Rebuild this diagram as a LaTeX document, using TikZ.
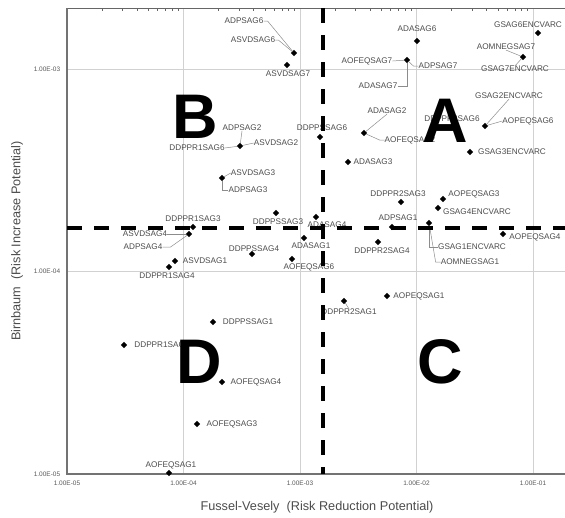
\documentclass[tikz,border=0pt]{standalone}
\usepackage{fontspec}
\setmainfont{Liberation Sans}
\usetikzlibrary{positioning, shapes.geometric}

\begin{document}
\begin{tikzpicture}[
        x=1pt, y=-1pt,
        datum/.style={diamond, fill=black, inner sep=0pt, minimum size=6.5pt},
        lbl/.style={font=\fontsize{8.2}{9}\selectfont, text=black!70, inner sep=0pt},
        ticklbl/.style={font=\fontsize{6.5}{7}\selectfont, text=black!65, inner sep=0pt},
        lead/.style={draw=black!45, line width=0.5pt},
        gridline/.style={draw=black!18, line width=0.8pt},
        axisline/.style={draw=black!55, line width=1.4pt},
        split/.style={draw=black, line width=4pt, dash pattern=on 15pt off 12pt},
        quad/.style={font=\fontsize{63}{63}\selectfont\bfseries, inner sep=0pt}
    ]
    \useasboundingbox (0,0) rectangle (565,517);

    % Grid and axes
    \foreach \gx in {183.5,300,416.5,533}
        \draw[gridline] (\gx,8) -- (\gx,474);
    \foreach \gy in {69,271}
        \draw[gridline] (67,\gy) -- (565,\gy);
    \draw[draw=black!60, line width=0.6pt] (67,8) -- (565,8);
    \begin{scope}
        \clip (67,0) rectangle (565,20);
        \foreach \d in {0,...,4}
            \foreach \k in {2,...,9}
                \draw[draw=black!60, line width=0.6pt] ({67+116.5*\d+116.5*ln(\k)/ln(10)},8) -- ++(0,3);
    \end{scope}
    \draw[axisline] (67,8) -- (67,474) -- (565,474);

    % Tick labels
    \node[ticklbl] (y3) at (47,69) {1.00E-03};
    \node[ticklbl] (y4) at (47,271) {1.00E-04};
    \node[ticklbl] (y5) at (47,474) {1.00E-05};
    \node[ticklbl] (x5) at (67,483) {1.00E-05};
    \node[ticklbl] (x4) at (183.5,483) {1.00E-04};
    \node[ticklbl] (x3) at (300,483) {1.00E-03};
    \node[ticklbl] (x2) at (416.5,483) {1.00E-02};
    \node[ticklbl] (x1) at (533,483) {1.00E-01};

    % Axis titles
    \node[font=\fontsize{12.7}{14}\selectfont, text=black!70] (xtitle) at (317,507) {Fussel-Vesely\ \ (Risk Reduction Potential)};
    \node[font=\fontsize{12.7}{14}\selectfont, text=black!70, rotate=90] (ytitle) at (17,241) {Birnbaum\ \ (Risk Increase Potential)};

    % Data points
    \node[datum] (m1) at (294,53) {};
    \node[datum] (m2) at (287,65) {};
    \node[datum] (m3) at (417,41) {};
    \node[datum] (m4) at (538,33) {};
    \node[datum] (m5) at (523,57) {};
    \node[datum] (m6) at (407,60) {};
    \node[datum] (m7) at (364,133) {};
    \node[datum] (m8) at (485,126) {};
    \node[datum] (m9) at (470,152) {};
    \node[datum] (m10) at (240,146) {};
    \node[datum] (m11) at (320,137) {};
    \node[datum] (m12) at (348,162) {};
    \node[datum] (m13) at (222,178) {};
    \node[datum] (m14) at (276,213) {};
    \node[datum] (m15) at (316,217) {};
    \node[datum] (m16) at (304,238) {};
    \node[datum] (m17) at (252,254) {};
    \node[datum] (m18) at (292,259) {};
    \node[datum] (m19) at (193,227) {};
    \node[datum] (m20) at (189,234) {};
    \node[datum] (m21) at (175,261) {};
    \node[datum] (m22) at (169,267) {};
    \node[datum] (m23) at (401,202) {};
    \node[datum] (m24) at (443,199) {};
    \node[datum] (m25) at (438,208) {};
    \node[datum] (m26) at (392,227) {};
    \node[datum] (m27) at (378,242) {};
    \node[datum] (m28) at (429,223) {};
    \node[datum] (m29) at (503,234) {};
    \node[datum] (m30) at (387,296) {};
    \node[datum] (m31) at (344,301) {};
    \node[datum] (m32) at (213,322) {};
    \node[datum] (m33) at (124,345) {};
    \node[datum] (m34) at (222,382) {};
    \node[datum] (m35) at (197,424) {};
    \node[datum] (m36) at (169,473) {};

    % Labels
    \node[lbl] (adpsag6) at (244,21) {ADPSAG6};
    \node[lbl] (asvdsag6) at (253,40) {ASVDSAG6};
    \node[lbl] (asvdsag7) at (288,74) {ASVDSAG7};
    \node[lbl] (adasag6) at (417,29) {ADASAG6};
    \node[lbl] (gsag6) at (528,25) {GSAG6ENCVARC};
    \node[lbl] (aomnegsag7) at (506,47) {AOMNEGSAG7};
    \node[lbl] (gsag7) at (515,69) {GSAG7ENCVARC};
    \node[lbl] (aofeqsag7) at (367,61) {AOFEQSAG7};
    \node[lbl] (adpsag7) at (438,66) {ADPSAG7};
    \node[lbl] (adasag7) at (378,86) {ADASAG7};
    \node[lbl] (adasag2) at (387,111) {ADASAG2};
    \node[lbl] (aofeqsag2) at (410,140) {AOFEQSAG2};
    \node[lbl] (gsag2) at (509,96) {GSAG2ENCVARC};
    \node[lbl] (aopeqsag6) at (528,121) {AOPEQSAG6};
    \node[lbl] (ddppr2sag6) at (452,119) {DDPPR2SAG6};
    \node[lbl] (gsag3) at (512,152) {GSAG3ENCVARC};
    \node[lbl] (adpsag2) at (242,128) {ADPSAG2};
    \node[lbl] (ddppr1sag6) at (197,148) {DDPPR1SAG6};
    \node[lbl] (asvdsag2) at (276,143) {ASVDSAG2};
    \node[lbl] (ddppssag6) at (322,128) {DDPPSSAG6};
    \node[lbl] (adasag3) at (373,162) {ADASAG3};
    \node[lbl] (asvdsag3) at (253,173) {ASVDSAG3};
    \node[lbl] (adpsag3) at (248,190) {ADPSAG3};
    \node[lbl] (ddppssag3) at (278,222) {DDPPSSAG3};
    \node[lbl] (adasag4) at (327,225) {ADASAG4};
    \node[lbl] (adasag1) at (311,246) {ADASAG1};
    \node[lbl] (ddppssag4) at (254,249) {DDPPSSAG4};
    \node[lbl] (aofeqsag6) at (309,267) {AOFEQSAG6};
    \node[lbl] (ddppr1sag3) at (193,219) {DDPPR1SAG3};
    \node[lbl] (asvdsag4) at (145,234) {ASVDSAG4};
    \node[lbl] (adpsag4) at (143,247) {ADPSAG4};
    \node[lbl] (asvdsag1) at (205,261) {ASVDSAG1};
    \node[lbl] (ddppr1sag4) at (167,276) {DDPPR1SAG4};
    \node[lbl] (ddppr2sag3) at (398,194) {DDPPR2SAG3};
    \node[lbl] (aopeqsag3) at (474,194) {AOPEQSAG3};
    \node[lbl] (gsag4) at (477,212) {GSAG4ENCVARC};
    \node[lbl] (adpsag1) at (398,218) {ADPSAG1};
    \node[lbl] (ddppr2sag4) at (382,251) {DDPPR2SAG4};
    \node[lbl] (gsag1) at (472,247) {GSAG1ENCVARC};
    \node[lbl] (aomnegsag1) at (470,262) {AOMNEGSAG1};
    \node[lbl] (aopeqsag4) at (535,237) {AOPEQSAG4};
    \node[lbl] (aopeqsag1) at (419,296) {AOPEQSAG1};
    \node[lbl] (ddppr2sag1) at (349,312) {DDPPR2SAG1};
    \node[lbl] (ddppssag1) at (248,322) {DDPPSSAG1};
    \node[lbl] (ddppr1sag1) at (162,345) {DDPPR1SAG1};
    \node[lbl] (aofeqsag4) at (256,382) {AOFEQSAG4};
    \node[lbl] (aofeqsag3) at (232,424) {AOFEQSAG3};
    \node[lbl] (aofeqsag1) at (171,465) {AOFEQSAG1};

    % Leader lines
    \draw[lead] (adpsag6.east) -- ++(4,0) -- (m1);
    \draw[lead] (asvdsag6.east) -- ++(3,0) -- (m1);
    \draw[lead] (aomnegsag7.south) -- (m5);
    \draw[lead] (gsag7.north) -- (m5);
    \draw[lead] (aofeqsag7.east) -- (m6);
    \draw[lead] (adpsag7.west) -- ++(-5,0) -- (m6);
    \draw[lead] (adasag7.east) -| (m6);
    \draw[lead] (adasag2.south) -- (m7);
    \draw[lead] (aofeqsag2.west) -- ++(-5,0) -- (m7);
    \draw[lead] (gsag2.south) -- (m8);
    \draw[lead] (aopeqsag6.west) -- (m8);
    \draw[lead] (adpsag2.south) -- (m10);
    \draw[lead] (ddppr1sag6.east) -- (m10);
    \draw[lead] (asvdsag2.west) -- (m10);
    \draw[lead] (asvdsag3.west) -- (m13);
    \draw[lead] (adpsag3.west) -| (m13);
    \draw[lead] (asvdsag4.east) -- (m20);
    \draw[lead] (adpsag4.east) -- ++(8,0) -- (m20);
    \draw[lead] (gsag1.west) -| (m28);
    \draw[lead] (aomnegsag1.west) -- ++(-5,0) -- (m28);
    \draw[lead] (ddppr2sag1.north) -- (m31);

    % Quadrant split
    \draw[split] (323,8) -- (323,474);
    \draw[split] (67,228) -- (565,228);

    % Quadrant letters
    \node[quad] (qa) at (445,121) {A};
    \node[quad] (qb) at (195,117) {B};
    \node[quad] (qc) at (440,362) {C};
    \node[quad] (qd) at (199,362) {D};

\end{tikzpicture}
\end{document}
